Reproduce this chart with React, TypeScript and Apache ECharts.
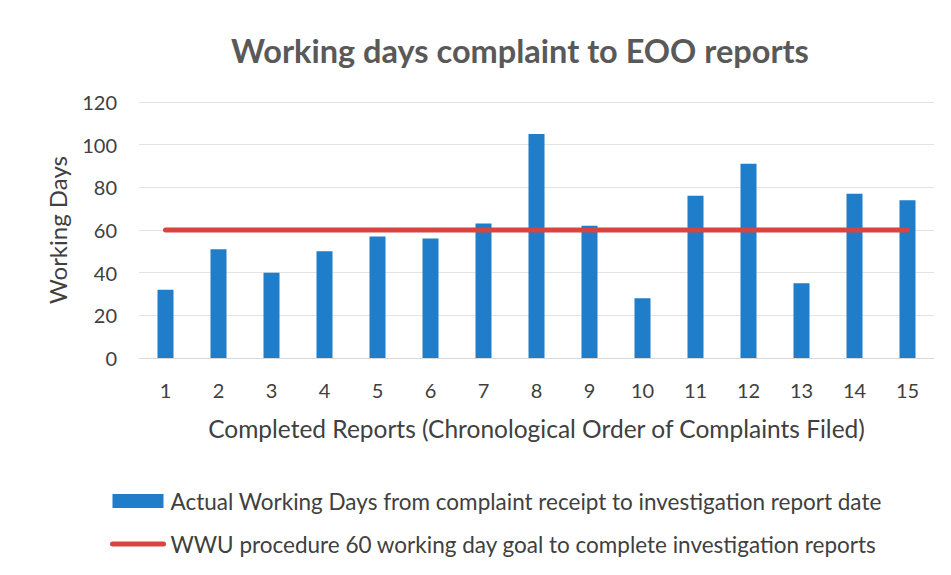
import React, { useEffect, useRef } from "react";
import * as echarts from "echarts";

const categories = ["1", "2", "3", "4", "5", "6", "7", "8", "9", "10", "11", "12", "13", "14", "15"];
const actualDays = [32, 51, 40, 50, 57, 56, 63, 105, 62, 28, 76, 91, 35, 77, 74];
const goalDays = [60, 60, 60, 60, 60, 60, 60, 60, 60, 60, 60, 60, 60, 60, 60];
const yTicks = { min: 0, max: 120, interval: 20 };

const FONT = "Lato";
const BAR_NAME = "Actual Working Days from complaint receipt to investigation report date";
const LINE_NAME = "WWU procedure 60 working day goal to complete investigation reports";

export default function App() {
  const ref = useRef<HTMLDivElement>(null);
  useEffect(() => {
    if (!ref.current) return;
    const chart = echarts.init(ref.current, undefined, { renderer: "svg" });
    chart.setOption({
      animation: false,
      backgroundColor: "#ffffff",
      title: {
        text: "Working days complaint to EOO reports",
        left: 515,
        textAlign: "center",
        top: 29,
        textStyle: { fontFamily: FONT, fontSize: 32.5, fontWeight: "bold", color: "#595959" },
      },
      grid: { left: 139, right: 17, top: 102, bottom: 217, containLabel: false },
      xAxis: {
        type: "category",
        data: categories,
        name: "Completed Reports (Chronological Order of Complaints Filed)",
        nameLocation: "middle",
        nameGap: 58,
        nameTextStyle: { fontFamily: FONT, fontSize: 24.5, color: "#404040" },
        axisLine: { show: true, lineStyle: { color: "#d9d9d9" } },
        axisTick: { show: false },
        axisLabel: { fontFamily: FONT, fontSize: 20, color: "#404040", margin: 22 },
      },
      yAxis: {
        type: "value",
        min: yTicks.min,
        max: yTicks.max,
        interval: yTicks.interval,
        name: "Working Days",
        nameLocation: "middle",
        nameGap: 70,
        nameTextStyle: { fontFamily: FONT, fontSize: 24, color: "#404040" },
        axisLine: { show: false },
        axisTick: { show: false },
        axisLabel: { fontFamily: FONT, fontSize: 20, color: "#404040", margin: 22 },
        splitLine: { lineStyle: { color: "#e3e3e3", width: 1 } },
      },
      legend: {
        orient: "vertical",
        left: 105,
        top: 484,
        itemGap: 19,
        itemWidth: 51,
        itemHeight: 14,
        textStyle: { fontFamily: FONT, fontSize: 22.5, lineHeight: 24, color: "#404040", padding: [0, 0, 0, 2] },
        data: [
          { name: BAR_NAME, icon: "rect" },
          {
            name: LINE_NAME,
            itemStyle: { opacity: 0 },
            lineStyle: { width: 5, cap: "round", color: "#d8443f" },
          },
        ],
      },
      series: [
        {
          name: BAR_NAME,
          type: "bar",
          data: actualDays,
          barWidth: 16,
          itemStyle: { color: "#1f7dc9" },
        },
        {
          name: LINE_NAME,
          type: "line",
          data: goalDays,
          symbol: "none",
          showSymbol: false,
          lineStyle: { color: "#d8443f", width: 5, cap: "round" },
          itemStyle: { color: "#d8443f" },
        },
      ],
      graphic: [
        {
          type: "rect",
          shape: { x: 3, y: 3, width: 945, height: 569 },
          style: { fill: "none", stroke: "#ececec", lineWidth: 1 },
          silent: true,
        },
      ],
    });
    return () => chart.dispose();
  }, []);
  return <div ref={ref} style={{ width: 951, height: 575, margin: -8 }} />;
}
